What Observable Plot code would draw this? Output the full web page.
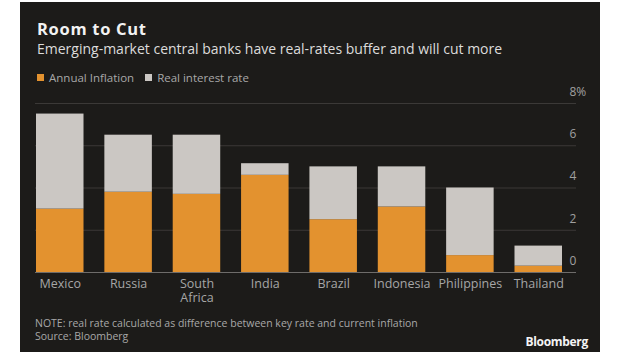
<!DOCTYPE html>
<html>
<head>
<meta charset="utf-8">
<script src="https://cdn.jsdelivr.net/npm/d3@7"></script>
<script src="https://cdn.jsdelivr.net/npm/@observablehq/plot@0.6"></script>
<style>
  html, body { margin: 0; padding: 0; background: #ffffff; width: 620px; height: 355px; overflow: hidden; }
  body { position: relative; font-family: "Open Sans", sans-serif; }
  #panel { position: absolute; left: 20px; top: 2px; width: 580px; height: 350px; background: #1c1b19; }
  .abs { position: absolute; white-space: nowrap; }
  #title { left: 37px; top: 21px; font-size: 16.5px; line-height: 16px; font-weight: 700; color: #f2f2f2; letter-spacing: 0.7px; }
  #subtitle { left: 37px; top: 41.5px; font-size: 14px; line-height: 14px; color: #dcdcdc; }
  #legend { left: 37px; top: 70px; height: 14px; display: flex; align-items: center; font-size: 11.5px; color: #a8a8a8; }
  #legend .sw { display: inline-block; width: 7px; height: 7px; margin-right: 5px; }
  #legend .item { display: flex; align-items: center; margin-right: 11px; }
  #chart { left: 0; top: 80px; }
  #note { left: 35px; top: 316.5px; font-size: 10.5px; line-height: 13px; color: #a8a8a8; }
  #brand { right: 32px; top: 335.5px; font-size: 12px; line-height: 12px; font-weight: 700; color: #f4f4f4; letter-spacing: -0.3px; }
</style>
</head>
<body>
<div id="panel"></div>
<div class="abs" id="title">Room to Cut</div>
<div class="abs" id="subtitle">Emerging-market central banks have real-rates buffer and will cut more</div>
<div class="abs" id="legend"></div>
<div class="abs" id="chart"></div>
<div class="abs" id="note">NOTE: real rate calculated as difference between key rate and current inflation<br>Source: Bloomberg</div>
<div class="abs" id="brand">Bloomberg</div>
<script>
const countries = ["Mexico", "Russia", "South Africa", "India", "Brazil", "Indonesia", "Philippines", "Thailand"];
const inflation = [3.0, 3.8, 3.7, 4.6, 2.5, 3.1, 0.8, 0.3];
const realRate = [4.5, 2.7, 2.8, 0.55, 2.5, 1.9, 3.2, 0.95];
const seriesNames = ["Annual Inflation", "Real interest rate"];
const seriesColors = ["#e3922f", "#cbc7c3"];
const yTicks = [0, 2, 4, 6, 8];

const rows = countries.flatMap((c, i) => [
  {country: c, series: seriesNames[0], value: inflation[i]},
  {country: c, series: seriesNames[1], value: realRate[i]}
]);

// legend
const legend = document.getElementById("legend");
seriesNames.forEach((name, i) => {
  const item = document.createElement("span");
  item.className = "item";
  const sw = document.createElement("span");
  sw.className = "sw";
  sw.style.background = seriesColors[i];
  item.appendChild(sw);
  item.appendChild(document.createTextNode(name));
  legend.appendChild(item);
});

const chart = Plot.plot({
  width: 620,
  height: 230,
  marginTop: 23,
  marginBottom: 38,
  marginLeft: 35,
  marginRight: 44,
  style: {background: "transparent", color: "#a6a6a6", fontFamily: "Open Sans", fontSize: "12.5px", overflow: "visible"},
  x: {domain: countries, range: [36, 562], paddingInner: 0.305, paddingOuter: 0, round: false},
  y: {domain: [0, 8]},
  color: {domain: seriesNames, range: seriesColors},
  marks: [
    Plot.ruleY(yTicks.slice(1), {stroke: "#3b3937", strokeWidth: 1}),
    Plot.barY(rows, {x: "country", y: "value", fill: "series"}),
    Plot.ruleY([0], {stroke: "#6e6c6a", strokeWidth: 1}),
    Plot.axisY(yTicks, {
      anchor: "right", tickSize: 0, tickPadding: 0, dx: -7, dy: -11.5,
      textAnchor: "start", label: null, fontSize: 12, fill: "#a0a0a0",
      tickFormat: d => d === 8 ? "8%" : String(d)
    }),
    Plot.axisX({
      tickSize: 0, tickPadding: 5, label: null, fontSize: 12.5, fill: "#a6a6a6", lineHeight: 1.15,
      tickFormat: d => d === "South Africa" ? "South\nAfrica" : d
    })
  ]
});
document.getElementById("chart").appendChild(chart);
</script>
</body>
</html>
